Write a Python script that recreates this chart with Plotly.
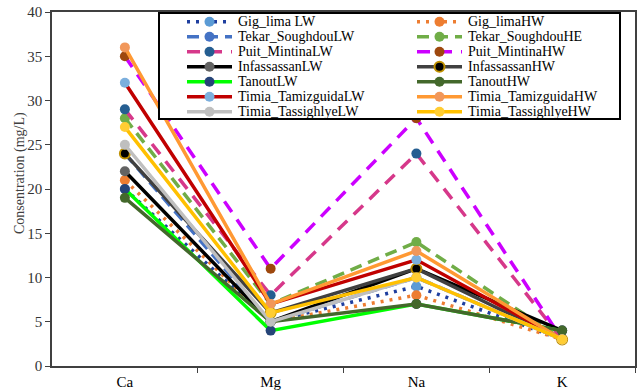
import plotly.graph_objects as go

categories = ["Ca", "Mg", "Na", "K"]

series_names = [
    "Gig_lima LW", "Gig_limaHW",
    "Tekar_SoughdouLW", "Tekar_SoughdouHE",
    "Puit_MintinaLW", "Puit_MintinaHW",
    "InfassassanLW", "InfassassanHW",
    "TanoutLW", "TanoutHW",
    "Timia_TamizguidaLW", "Timia_TamizguidaHW",
    "Timia_TassighlyeLW", "Timia_TassighlyeHW",
]

gig_lima_lw = [20, 5, 9, 3]
gig_lima_hw = [21, 5, 8, 3]
tekar_lw = [24, 5, 10, 3]
tekar_he = [28, 7, 14, 3]
puit_lw = [29, 8, 24, 3]
puit_hw = [35, 11, 28, 3]
infass_lw = [22, 5, 11, 4]
infass_hw = [24, 6, 11, 3]
tanout_lw = [20, 4, 7, 4]
tanout_hw = [19, 5, 7, 4]
tamiz_lw = [32, 7, 12, 3]
tamiz_hw = [36, 7, 13, 3]
tass_lw = [25, 5, 10, 3]
tass_hw = [27, 6, 10, 3]

series_values = [gig_lima_lw, gig_lima_hw, tekar_lw, tekar_he, puit_lw, puit_hw,
                 infass_lw, infass_hw, tanout_lw, tanout_hw, tamiz_lw, tamiz_hw,
                 tass_lw, tass_hw]

line_colors = ["#1F3F9F", "#ED7D31", "#4472C4", "#70AD47", "#D6388A", "#CC00FF",
               "#000000", "#404040", "#00FF00", "#43682B", "#C00000", "#FF9933",
               "#BFBFBF", "#FFC000"]
marker_colors = ["#5B9BD5", "#ED7D31", "#4472C4", "#70AD47", "#255E91", "#9E480E",
                 "#636363", "#000000", "#264478", "#43682B", "#7CAFDD", "#F1975A",
                 "#BFBFBF", "#FFCD33"]
marker_outline = [None, None, None, None, None, None, None, "#BF9000",
                  None, None, None, None, None, None]
dashes = ["3px,6px", "3px,6px", "12px,7px", "12px,7px", "13px,9px", "13px,9px",
          "solid", "solid", "solid", "solid", "solid", "solid", "solid", "solid"]

W, H = 637, 392
L, R, T, B = 52, 635, 12, 366
FONT = "Liberation Serif, Times New Roman, serif"


def px_x(p):
    return (p - L) / (R - L)


def px_y(p):
    return (B - p) / (B - T)


xpos = list(range(len(categories)))

fig = go.Figure()
for name, vals, lc, mc, mo, dsh in zip(series_names, series_values, line_colors,
                                       marker_colors, marker_outline, dashes):
    fig.add_trace(go.Scatter(
        x=xpos, y=vals, name=name, mode="lines+markers",
        line=dict(color=lc, width=3.5, dash=dsh),
        marker=dict(color=mc, size=10,
                    line=dict(color=mo if mo else mc, width=2 if mo else 0)),
        showlegend=False,
    ))

shapes = []
annotations = []
# legend box
shapes.append(dict(type="rect", xref="paper", yref="paper",
                   x0=px_x(159), x1=px_x(620), y0=px_y(119), y1=px_y(13),
                   fillcolor="white", line=dict(color="black", width=2), layer="above"))
col_line_start = [187, 417]
row_y0, row_step = 21.7, 15
for i, (name, lc, mc, mo, dsh) in enumerate(zip(series_names, line_colors, marker_colors,
                                                marker_outline, dashes)):
    r, c = divmod(i, 2)
    yc = row_y0 + row_step * r
    xs = col_line_start[c]
    shapes.append(dict(type="line", xref="paper", yref="paper",
                       x0=px_x(xs), x1=px_x(xs + 45), y0=px_y(yc), y1=px_y(yc),
                       line=dict(color=lc, width=3.5, dash=dsh), layer="above"))
    xm = xs + 22.5
    shapes.append(dict(type="circle", xref="paper", yref="paper",
                       x0=px_x(xm - 5), x1=px_x(xm + 5), y0=px_y(yc + 5), y1=px_y(yc - 5),
                       fillcolor=mc, line=dict(color=mo if mo else mc, width=2 if mo else 0),
                       layer="above"))
    annotations.append(dict(text=name, xref="paper", yref="paper",
                            x=px_x(xs + 50), y=px_y(yc), xanchor="left", yanchor="middle",
                            showarrow=False, borderpad=0,
                            font=dict(family=FONT, size=14, color="black")))

annotations.append(dict(text="Consentration (mg/L)", xref="paper", yref="paper",
                        x=px_x(20), y=px_y(173), textangle=-90, showarrow=False,
                        xanchor="center", yanchor="middle",
                        font=dict(family=FONT, size=14, color="#404040")))

fig.update_layout(
    width=W, height=H,
    margin=dict(l=L, r=W - R, t=T, b=H - B, autoexpand=False),
    paper_bgcolor="white", plot_bgcolor="white",
    shapes=shapes, annotations=annotations,
    font=dict(family=FONT, size=14, color="black"),
    showlegend=False,
)
fig.update_xaxes(
    range=[-0.5, 3.5], tickmode="array", tickvals=xpos, ticktext=categories,
    ticks="", showgrid=False, zeroline=False, automargin=False,
    showline=True, linecolor="#404040", linewidth=1.5, mirror=True,
    tickfont=dict(family=FONT, size=15, color="black"),
    minor=dict(tickmode="array", tickvals=[0.5, 1.5, 2.5, 3.5], ticks="outside",
               ticklen=5, tickcolor="#404040", tickwidth=1, showgrid=False),
    ticklabelstandoff=1,
)
fig.update_yaxes(
    range=[0, 40], tickmode="linear", tick0=0, dtick=5,
    ticks="outside", ticklen=5, tickcolor="#404040", automargin=False,
    showgrid=False, zeroline=False,
    showline=True, linecolor="#404040", linewidth=1.5, mirror=True,
    tickfont=dict(family=FONT, size=15, color="#333333"),
)

fig.write_html("out.html")
